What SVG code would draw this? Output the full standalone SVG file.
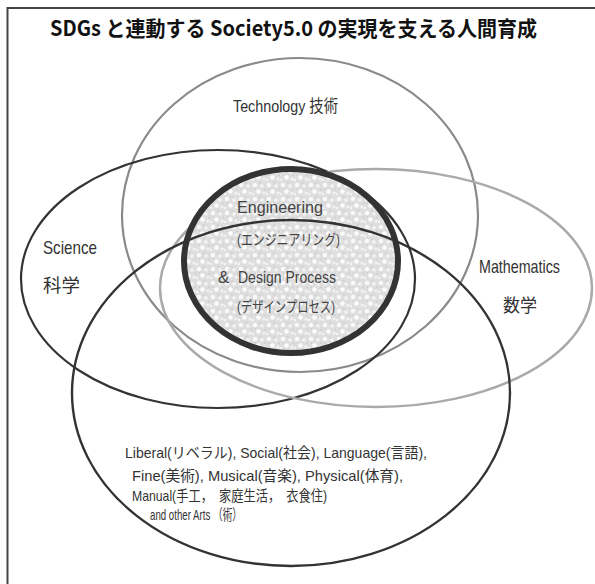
<svg xmlns="http://www.w3.org/2000/svg" width="595" height="584" viewBox="0 0 595 584">
<style>
.lbl{font-family:"Liberation Sans","Noto Sans CJK JP",sans-serif;fill:#333}
.jp{font-family:"Noto Sans CJK JP",sans-serif;fill:#333}
.eng{font-family:"Liberation Sans","Noto Sans CJK JP",sans-serif;fill:#444}
.ell{fill:none}
</style>
<defs>
<pattern id="stip" width="14" height="14" patternUnits="userSpaceOnUse">
<rect width="14" height="14" fill="#dedede"/>
<circle cx="3" cy="3" r="2.2" fill="#fafafa"/>
<circle cx="10" cy="4" r="1.8" fill="#f4f4f4"/>
<circle cx="6.5" cy="9.5" r="2.3" fill="#fcfcfc"/>
<circle cx="12" cy="11" r="1.6" fill="#f2f2f2"/>
<circle cx="1" cy="12" r="1.2" fill="#f6f6f6"/>
<circle cx="8" cy="1" r="0.7" fill="#bdbdbd"/>
<circle cx="13" cy="7.5" r="0.7" fill="#c4c4c4"/>
<circle cx="3.5" cy="7" r="0.6" fill="#c0c0c0"/>
</pattern>
</defs>
<rect width="595" height="584" fill="#fff"/>
<path d="M7.5,590 V8 H600" fill="none" stroke="#444" stroke-width="2"/>
<text x="50" y="36" font-family="Noto Sans CJK JP,sans-serif" font-size="21" font-weight="700" fill="#111" textLength="487" lengthAdjust="spacingAndGlyphs">SDGs と連動する Society5.0 の実現を支える人間育成</text>
<g id="connectors">
<ellipse id="technology-ring" class="ell" cx="300" cy="215" rx="178" ry="157" stroke="#8a8a8a" stroke-width="2.2"/>
<ellipse id="science-ring" class="ell" cx="218" cy="279" rx="197" ry="129" stroke="#333" stroke-width="2.2"/>
<ellipse id="math-ring" class="ell" cx="376" cy="288" rx="216" ry="119" stroke="#aaa" stroke-width="2.5"/>
</g>
<g id="engineering">
<ellipse cx="291" cy="261" rx="107" ry="92" fill="url(#stip)" stroke="#333" stroke-width="6"/>
</g>
<g id="arts-ring">
<ellipse class="ell" cx="291" cy="393" rx="219" ry="173" stroke="#333" stroke-width="2.4"/>
</g>
<g id="engineering-text">
<text class="eng" x="237" y="213" font-size="17" textLength="86" lengthAdjust="spacingAndGlyphs">Engineering</text>
<text class="eng" x="237" y="245" font-size="15" textLength="103" lengthAdjust="spacingAndGlyphs">(エンジニアリング)</text>
<text class="eng" x="218" y="283" font-size="17">&amp;</text>
<text class="eng" x="238" y="283" font-size="17" textLength="98" lengthAdjust="spacingAndGlyphs">Design Process</text>
<text class="eng" x="237" y="312" font-size="15" textLength="98" lengthAdjust="spacingAndGlyphs">(デザインプロセス)</text>
</g>
<g id="technology">
<text class="lbl" x="233" y="112" font-size="17" textLength="105" lengthAdjust="spacingAndGlyphs">Technology 技術</text>
</g>
<g id="science">
<text class="lbl" x="43" y="254" font-size="19" textLength="54" lengthAdjust="spacingAndGlyphs">Science</text>
<text class="jp" x="43" y="292" font-size="18" textLength="37" lengthAdjust="spacingAndGlyphs">科学</text>
</g>
<g id="mathematics">
<text class="lbl" x="479" y="273" font-size="19" textLength="81" lengthAdjust="spacingAndGlyphs">Mathematics</text>
<text class="jp" x="503" y="312" font-size="18" textLength="34" lengthAdjust="spacingAndGlyphs">数学</text>
</g>
<g id="arts">
<text class="lbl" x="125" y="458" font-size="15" fill="#222" textLength="302" lengthAdjust="spacingAndGlyphs">Liberal(リベラル), Social(社会), Language(言語),</text>
<text class="lbl" x="132" y="481" font-size="15" textLength="271" lengthAdjust="spacingAndGlyphs">Fine(美術), Musical(音楽), Physical(体育),</text>
<text class="lbl" x="132" y="501" font-size="15" textLength="195" lengthAdjust="spacingAndGlyphs">Manual(手工，　家庭生活，　衣食住)</text>
<text class="lbl" x="150" y="520" font-size="15" textLength="92" lengthAdjust="spacingAndGlyphs">and other Arts （術）</text>
</g>
</svg>
